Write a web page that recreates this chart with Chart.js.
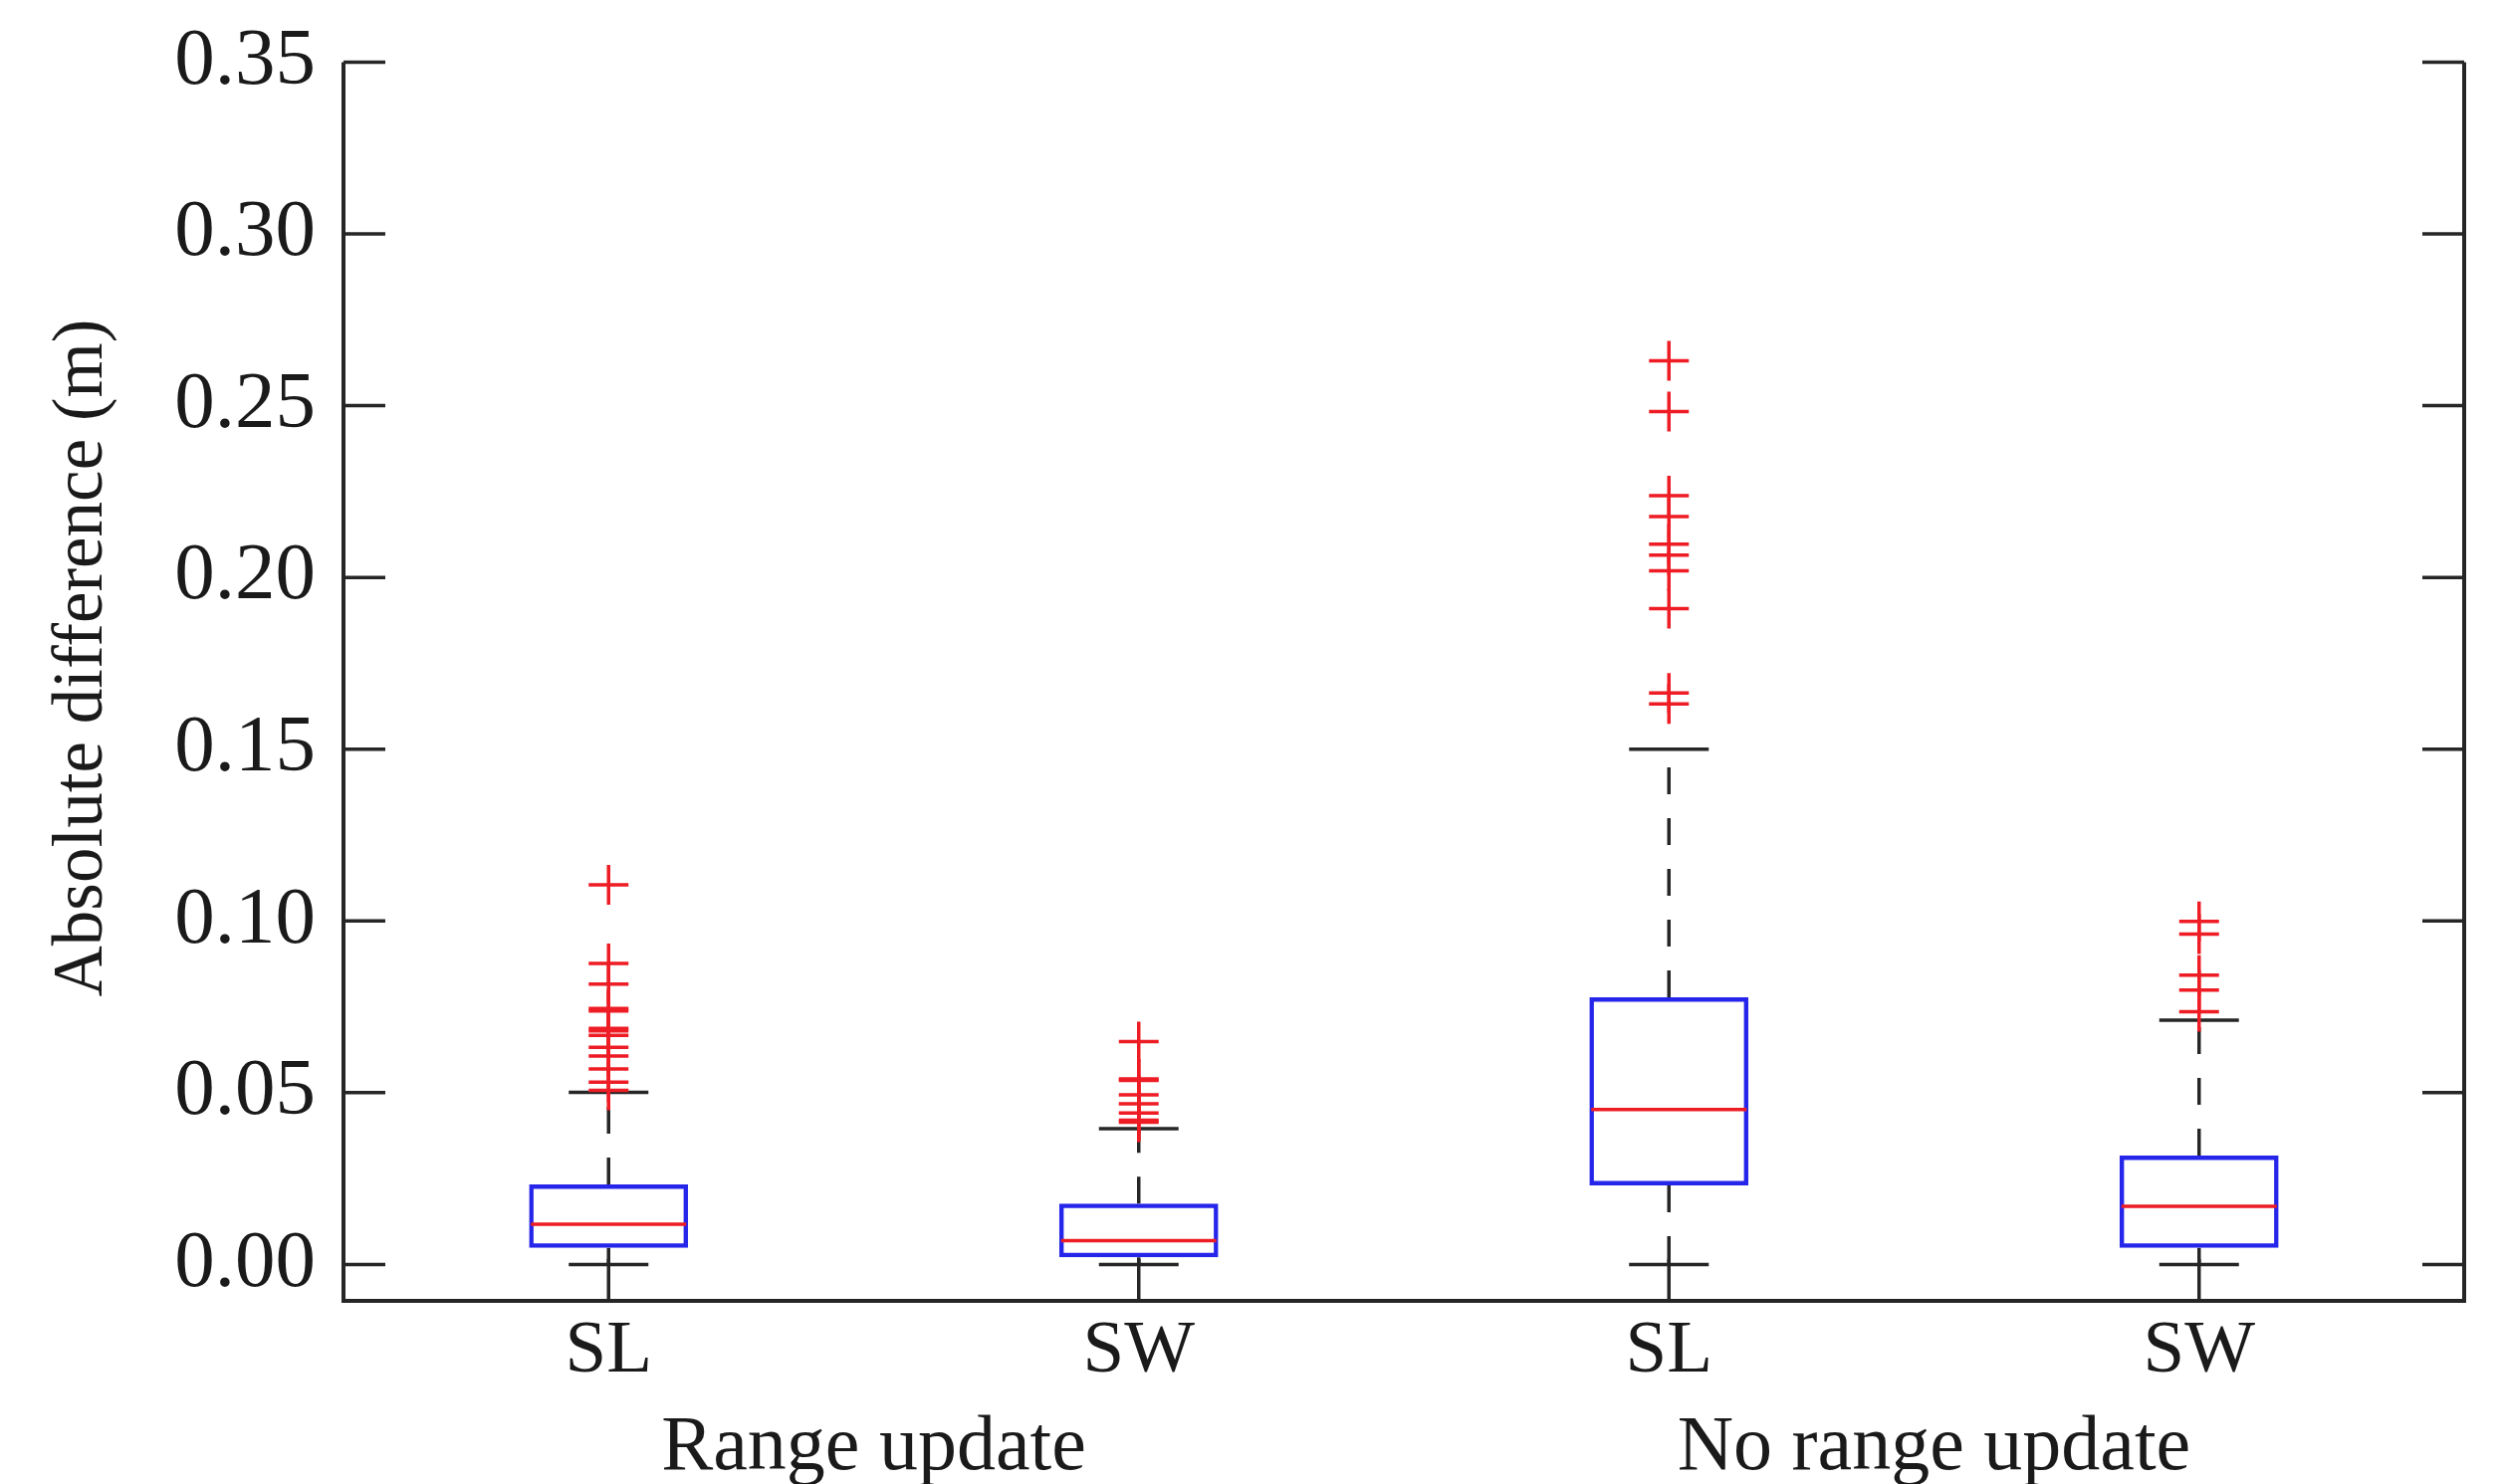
<!DOCTYPE html>
<html><head><meta charset="utf-8">
<script src="https://cdn.jsdelivr.net/npm/chart.js@4.4.1/dist/chart.umd.min.js"></script>
<style>html,body{margin:0;padding:0;background:#fff;}#wrap{width:2514px;height:1491px;position:relative;}</style>
</head><body><div id="wrap"><canvas id="c"></canvas></div>
<script>
// ---- data ----
const categories = ['SL', 'SW', 'SL', 'SW'];
const categoryIds = ['SL (range update)', 'SW (range update)', 'SL (no range update)', 'SW (no range update)'];
const groupLabels = ['Range update', 'No range update'];
const yTickValues = [0.00, 0.05, 0.10, 0.15, 0.20, 0.25, 0.30, 0.35];
const yAxisTitle = 'Absolute difference (m)';
const yMin = -0.0106;
const yMax = 0.35;

const q1 = [0.0048, 0.0021, 0.0230, 0.0048];
const median = [0.0117, 0.0069, 0.0451, 0.0169];
const q3 = [0.0233, 0.0177, 0.0778, 0.0317];
const whiskerLow = [0.0, 0.0, 0.0, 0.0];
const whiskerHigh = [0.0501, 0.0395, 0.1500, 0.0711];

const outliersSL1 = [0.1105, 0.0876, 0.0816, 0.0745, 0.0738, 0.0687, 0.0680, 0.0667, 0.0632, 0.0607, 0.0569, 0.0531, 0.0507];
const outliersSW1 = [0.0649, 0.0540, 0.0536, 0.0494, 0.0468, 0.0441, 0.0420, 0.0414];
const outliersSL2 = [0.2631, 0.2483, 0.2238, 0.2177, 0.2097, 0.2065, 0.2019, 0.1909, 0.1664, 0.1632];
const outliersSW2 = [0.0999, 0.0962, 0.0842, 0.0799, 0.0736];
const outlierLists = [outliersSL1, outliersSW1, outliersSL2, outliersSW2];

// ---- styles ----
const SERIF = '"Liberation Serif", "Times New Roman", serif';
const AXIS_COLOR = '#262626';
const BOX_COLOR = 'rgb(38,38,235)';
const RED = 'rgb(238,28,36)';

// ---- datasets ----
const datasets = [];
datasets.push({
  type: 'bar', label: 'box', order: 3,
  data: q1.map((v, i) => [v, q3[i]]),
  backgroundColor: 'rgba(0,0,0,0)', borderColor: BOX_COLOR, borderWidth: 4.5, borderSkipped: false,
  barPercentage: 0.3, categoryPercentage: 1.0
});
categoryIds.forEach((c, i) => {
  [[q3[i], whiskerHigh[i]], [q1[i], whiskerLow[i]]].forEach(pair => {
    datasets.push({
      type: 'line', label: 'whisker', order: 4,
      data: pair.map(v => ({x: c, y: v})),
      borderColor: AXIS_COLOR, borderWidth: 3.5, borderDash: [27, 24], pointRadius: 0, fill: false
    });
  });
});
datasets.push({
  type: 'line', label: 'caps', order: 2, showLine: false,
  data: categoryIds.flatMap((c, i) => [{x: c, y: whiskerHigh[i]}, {x: c, y: whiskerLow[i]}]),
  pointStyle: 'line', pointRadius: 40, pointBorderWidth: 3.5, pointBorderColor: AXIS_COLOR
});
datasets.push({
  type: 'line', label: 'median', order: 1, showLine: false,
  data: median.map((v, i) => ({x: categoryIds[i], y: v})),
  pointStyle: 'line', pointRadius: 78, pointBorderWidth: 3.5, pointBorderColor: RED
});
datasets.push({
  type: 'line', label: 'outliers', order: 0, showLine: false,
  data: outlierLists.flatMap((arr, i) => arr.map(v => ({x: categoryIds[i], y: v}))),
  pointStyle: 'cross', pointRadius: 20, pointBorderWidth: 3.5, pointBorderColor: RED
});

// ---- frame / ticks / y title ----
const framePlugin = {
  id: 'frame',
  beforeDatasetsDraw(chart) {
    const {ctx, chartArea: a, scales: {x, y}} = chart;
    const top = y.getPixelForValue(yTickValues[yTickValues.length - 1]);
    ctx.save();
    ctx.strokeStyle = AXIS_COLOR; ctx.lineWidth = 4; ctx.lineJoin = 'miter';
    ctx.beginPath();
    ctx.moveTo(a.left, top); ctx.lineTo(a.left, a.bottom);
    ctx.lineTo(a.right, a.bottom); ctx.lineTo(a.right, top);
    ctx.stroke();
    const tl = 42;
    ctx.lineWidth = 3.5;
    yTickValues.forEach(v => {
      const p = y.getPixelForValue(v);
      ctx.beginPath();
      ctx.moveTo(a.left, p); ctx.lineTo(a.left + tl, p);
      ctx.moveTo(a.right, p); ctx.lineTo(a.right - tl, p);
      ctx.stroke();
    });
    categoryIds.forEach((c, i) => {
      const p = x.getPixelForValue(i);
      ctx.beginPath(); ctx.moveTo(p, a.bottom); ctx.lineTo(p, a.bottom - tl); ctx.stroke();
    });
    ctx.restore();
  },
  afterDraw(chart) {
    const {ctx} = chart;
    ctx.save();
    ctx.translate(83, 661);
    ctx.rotate(-Math.PI / 2);
    ctx.font = '71px ' + SERIF;
    ctx.fillStyle = '#1a1a1a';
    ctx.textAlign = 'center'; ctx.textBaseline = 'middle';
    ctx.fillText(yAxisTitle, 0, 0);
    ctx.restore();
  }
};

new Chart(document.getElementById('c'), {
  type: 'bar',
  data: {labels: categoryIds, datasets},
  plugins: [framePlugin],
  options: {
    responsive: true, maintainAspectRatio: false, animation: false, events: [],
    layout: {autoPadding: false, padding: {left: 0, right: 39, top: 62.5, bottom: 0}},
    plugins: {legend: {display: false}, tooltip: {enabled: false}},
    scales: {
      x: {
        type: 'category', position: 'bottom', offset: true, weight: 0,
        grid: {display: false, drawTicks: false}, border: {display: false},
        ticks: {font: {family: SERIF, size: 75}, color: '#1a1a1a', padding: 6, maxRotation: 0, autoSkip: false,
          callback: (v, i) => categories[i]},
        afterFit(s) { s.height = 100; }
      },
      x2: {
        type: 'category', position: 'bottom', offset: true, weight: 1, labels: groupLabels,
        grid: {display: false, drawTicks: false}, border: {display: false},
        ticks: {font: {family: SERIF, size: 78}, color: '#1a1a1a', padding: 2, maxRotation: 0, autoSkip: false},
        afterFit(s) { s.height = 84; }
      },
      y: {
        type: 'linear', min: yMin, max: yMax,
        grid: {display: false, drawTicks: false}, border: {display: false},
        afterBuildTicks(s) { s.ticks = yTickValues.map(v => ({value: v})); },
        ticks: {font: {family: SERIF, size: 81, lineHeight: 0.8}, color: '#1a1a1a', padding: 28,
          callback: v => Number(v).toFixed(2)},
        afterFit(s) { s.width = 345; }
      }
    }
  }
});
</script></body></html>
